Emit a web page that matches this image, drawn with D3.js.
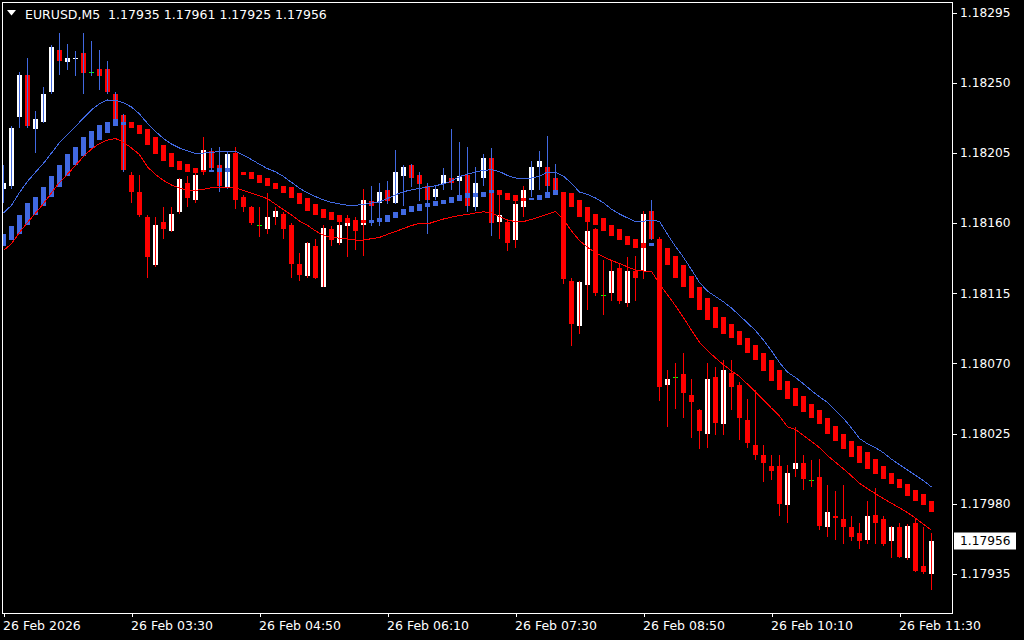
<!DOCTYPE html>
<html><head><meta charset="utf-8">
<script src="https://cdn.jsdelivr.net/npm/d3@7"></script>
<style>html,body{margin:0;padding:0;background:#000;overflow:hidden}svg{display:block}</style>
</head><body>
<svg id="chart" width="1024" height="640"></svg>
<script>
const symbolName = "EURUSD,M5";
const opens = [1.18182,1.18184,1.18228,1.18255,1.18220,1.18225,1.18244,1.18271,1.18263,1.18265,
1.18269,1.18257,1.18259,1.18259,1.18243,1.18229,1.18191,1.18180,1.18164,1.18133,
1.18161,1.18155,1.18167,1.18186,1.18175,1.18194,1.18206,1.18197,1.18183,1.18205,
1.18177,1.18170,1.18159,1.18156,1.18164,1.18166,1.18159,1.18134,1.18126,1.18145,
1.18119,1.18156,1.18147,1.18158,1.18160,1.18159,1.18174,1.18173,1.18181,1.18173,
1.18190,1.18197,1.18191,1.18184,1.18177,1.18185,1.18189,1.18187,1.18191,1.18170,
1.18189,1.18202,1.18161,1.18161,1.18149,1.18170,1.18181,1.18196,1.18196,1.18189,
1.18179,1.18123,1.18094,1.18120,1.18156,1.18114,1.18115,1.18131,1.18109,1.18129,
1.18129,1.18168,1.18150,1.18056,1.18061,1.18063,1.18050,1.18040,1.18025,1.18061,
1.18031,1.18064,1.18056,1.18034,1.18018,1.18011,1.18004,1.18004,1.17979,1.18002,
1.18006,1.17995,1.17997,1.17965,1.17972,1.17970,1.17965,1.17961,1.17957,1.17973,
1.17970,1.17956,1.17965,1.17945,1.17968,1.17940,1.17935];
const highs = [1.18197,1.18222,1.18257,1.18266,1.18232,1.18247,1.18274,1.18282,1.18275,1.18270,
1.18282,1.18277,1.18271,1.18264,1.18244,1.18230,1.18193,1.18191,1.18165,1.18164,
1.18170,1.18170,1.18189,1.18190,1.18195,1.18215,1.18208,1.18209,1.18206,1.18209,
1.18178,1.18171,1.18170,1.18179,1.18170,1.18167,1.18160,1.18141,1.18148,1.18150,
1.18159,1.18158,1.18161,1.18165,1.18164,1.18182,1.18184,1.18186,1.18187,1.18207,
1.18197,1.18198,1.18193,1.18186,1.18184,1.18195,1.18220,1.18212,1.18209,1.18196,
1.18204,1.18208,1.18178,1.18162,1.18175,1.18184,1.18200,1.18206,1.18216,1.18198,
1.18180,1.18125,1.18123,1.18162,1.18157,1.18136,1.18136,1.18134,1.18138,1.18139,
1.18168,1.18175,1.18151,1.18066,1.18070,1.18077,1.18060,1.18041,1.18070,1.18068,
1.18072,1.18072,1.18058,1.18047,1.18053,1.18018,1.18011,1.18011,1.18005,1.18029,
1.18011,1.18008,1.18009,1.17992,1.17988,1.17992,1.17972,1.17968,1.17982,1.17990,
1.17972,1.17966,1.17968,1.17967,1.17970,1.17965,1.17961];
const lows = [1.18173,1.18182,1.18221,1.18221,1.18205,1.18224,1.18243,1.18255,1.18258,1.18254,
1.18243,1.18254,1.18245,1.18243,1.18225,1.18193,1.18173,1.18164,1.18125,1.18132,
1.18150,1.18154,1.18166,1.18170,1.18173,1.18191,1.18194,1.18180,1.18182,1.18169,
1.18167,1.18159,1.18151,1.18153,1.18159,1.18150,1.18125,1.18123,1.18125,1.18124,
1.18119,1.18145,1.18146,1.18138,1.18143,1.18139,1.18158,1.18158,1.18172,1.18172,
1.18171,1.18183,1.18174,1.18153,1.18175,1.18181,1.18181,1.18174,1.18167,1.18168,
1.18184,1.18152,1.18150,1.18142,1.18144,1.18164,1.18177,1.18181,1.18180,1.18178,
1.18121,1.18081,1.18089,1.18104,1.18113,1.18101,1.18110,1.18108,1.18106,1.18110,
1.18124,1.18149,1.18046,1.18029,1.18041,1.18035,1.18022,1.18015,1.18016,1.18024,
1.18024,1.18040,1.18021,1.18016,1.18008,1.17994,1.17995,1.17972,1.17968,1.17997,
1.17989,1.17991,1.17963,1.17959,1.17957,1.17954,1.17956,1.17951,1.17954,1.17954,
1.17953,1.17945,1.17945,1.17944,1.17936,1.17935,1.17925];
const closes = [1.18186,1.18221,1.18255,1.18222,1.18227,1.18243,1.18273,1.18264,1.18266,1.18266,
1.18256,1.18257,1.18254,1.18244,1.18227,1.18194,1.18180,1.18165,1.18138,1.18159,
1.18156,1.18166,1.18188,1.18176,1.18191,1.18207,1.18195,1.18184,1.18204,1.18175,
1.18170,1.18160,1.18159,1.18164,1.18168,1.18156,1.18134,1.18127,1.18147,1.18125,
1.18157,1.18149,1.18159,1.18163,1.18155,1.18175,1.18171,1.18180,1.18174,1.18193,
1.18196,1.18189,1.18185,1.18175,1.18182,1.18191,1.18186,1.18190,1.18171,1.18186,
1.18202,1.18160,1.18165,1.18147,1.18172,1.18181,1.18196,1.18200,1.18184,1.18181,
1.18124,1.18095,1.18122,1.18155,1.18115,1.18114,1.18129,1.18110,1.18129,1.18125,
1.18166,1.18150,1.18055,1.18060,1.18061,1.18051,1.18045,1.18027,1.18060,1.18032,
1.18066,1.18055,1.18035,1.18019,1.18011,1.18006,1.18001,1.17980,1.18000,1.18006,
1.17996,1.17995,1.17966,1.17975,1.17971,1.17965,1.17959,1.17956,1.17972,1.17968,
1.17954,1.17965,1.17946,1.17966,1.17937,1.17936,1.17956];
const haOpen = [1.18145,1.18149,1.18153,1.18159,1.18165,1.18171,1.18177,1.18183,1.18190,1.18197,
1.18203,1.18208,1.18213,1.18218,1.18222,1.18223,1.18225,1.18223,1.18220,1.18215,
1.18210,1.18205,1.18200,1.18198,1.18195,1.18194,1.18193,1.18193,1.18193,1.18194,
1.18193,1.18193,1.18191,1.18189,1.18186,1.18184,1.18183,1.18179,1.18176,1.18172,
1.18169,1.18167,1.18165,1.18163,1.18162,1.18162,1.18160,1.18161,1.18161,1.18163,
1.18165,1.18167,1.18168,1.18170,1.18171,1.18172,1.18173,1.18174,1.18176,1.18177,
1.18177,1.18179,1.18181,1.18179,1.18178,1.18176,1.18175,1.18175,1.18176,1.18178,
1.18180,1.18179,1.18175,1.18170,1.18166,1.18163,1.18159,1.18156,1.18152,1.18150,
1.18147,1.18145,1.18147,1.18144,1.18139,1.18133,1.18126,1.18119,1.18112,1.18106,
1.18100,1.18095,1.18091,1.18086,1.18082,1.18077,1.18072,1.18066,1.18059,1.18054,
1.18049,1.18044,1.18040,1.18035,1.18030,1.18025,1.18020,1.18017,1.18013,1.18009,
1.18004,1.18000,1.17996,1.17993,1.17989,1.17986,1.17982];
const haClose = [1.18153,1.18158,1.18165,1.18173,1.18177,1.18183,1.18190,1.18197,1.18204,1.18209,
1.18215,1.18219,1.18223,1.18225,1.18227,1.18225,1.18221,1.18217,1.18210,1.18204,
1.18200,1.18196,1.18194,1.18193,1.18192,1.18193,1.18194,1.18195,1.18195,1.18192,
1.18191,1.18188,1.18186,1.18184,1.18182,1.18179,1.18176,1.18172,1.18168,1.18165,
1.18163,1.18162,1.18161,1.18160,1.18160,1.18160,1.18162,1.18163,1.18165,1.18167,
1.18169,1.18171,1.18172,1.18173,1.18174,1.18175,1.18177,1.18178,1.18179,1.18179,
1.18180,1.18181,1.18178,1.18175,1.18174,1.18174,1.18176,1.18178,1.18180,1.18181,
1.18175,1.18170,1.18164,1.18161,1.18159,1.18155,1.18152,1.18149,1.18146,1.18144,
1.18144,1.18147,1.18142,1.18133,1.18125,1.18119,1.18112,1.18104,1.18098,1.18093,
1.18089,1.18086,1.18082,1.18077,1.18072,1.18065,1.18059,1.18053,1.18047,1.18043,
1.18039,1.18035,1.18031,1.18025,1.18020,1.18015,1.18010,1.18006,1.18002,1.17999,
1.17996,1.17993,1.17990,1.17985,1.17982,1.17979,1.17975];
const upperBand = [1.181664,1.181714,1.181796,1.181867,1.181926,1.181983,1.182049,1.182117,1.182167,1.182219,
1.182274,1.182326,1.182365,1.182389,1.182388,1.182371,1.182344,1.182299,1.182239,1.182187,
1.182142,1.182107,1.182081,1.182063,1.182046,1.182049,1.182054,1.182058,1.182061,1.182059,
1.182036,1.182007,1.181977,1.181949,1.181929,1.181899,1.181861,1.181823,1.181793,1.181770,
1.181748,1.181733,1.181723,1.181714,1.181714,1.181720,1.181728,1.181736,1.181758,1.181781,
1.181801,1.181813,1.181822,1.181831,1.181839,1.181852,1.181868,1.181898,1.181913,1.181927,
1.181938,1.181942,1.181930,1.181905,1.181889,1.181884,1.181889,1.181901,1.181927,1.181926,
1.181901,1.181854,1.181799,1.181783,1.181761,1.181730,1.181689,1.181658,1.181633,1.181608,
1.181612,1.181617,1.181611,1.181527,1.181450,1.181380,1.181301,1.181219,1.181164,1.181129,
1.181095,1.181055,1.181007,1.180960,1.180910,1.180849,1.180781,1.180706,1.180644,1.180610,
1.180569,1.180526,1.180486,1.180450,1.180399,1.180347,1.180286,1.180219,1.180185,1.180160,
1.180127,1.180086,1.180051,1.180017,1.179983,1.179948,1.179908];
const lowerBand = [1.181425,1.181467,1.181540,1.181604,1.181663,1.181725,1.181793,1.181861,1.181913,1.181970,
1.182027,1.182075,1.182110,1.182132,1.182142,1.182118,1.182081,1.182039,1.181960,1.181911,
1.181873,1.181844,1.181824,1.181812,1.181810,1.181817,1.181827,1.181827,1.181831,1.181825,
1.181808,1.181791,1.181774,1.181756,1.181721,1.181686,1.181652,1.181613,1.181585,1.181550,
1.181521,1.181508,1.181503,1.181498,1.181491,1.181491,1.181500,1.181508,1.181528,1.181546,
1.181565,1.181584,1.181598,1.181594,1.181611,1.181626,1.181638,1.181649,1.181655,1.181665,
1.181672,1.181665,1.181642,1.181620,1.181609,1.181610,1.181623,1.181640,1.181657,1.181675,
1.181623,1.181549,1.181488,1.181444,1.181410,1.181383,1.181360,1.181341,1.181319,1.181299,
1.181292,1.181290,1.181210,1.181140,1.181070,1.180994,1.180913,1.180836,1.180783,1.180735,
1.180692,1.180652,1.180617,1.180567,1.180516,1.180465,1.180413,1.180362,1.180293,1.180276,
1.180238,1.180200,1.180160,1.180109,1.180067,1.180024,1.179979,1.179931,1.179897,1.179865,
1.179833,1.179803,1.179774,1.179744,1.179708,1.179669,1.179630];
const priceTicks = [1.18295,1.18250,1.18205,1.18160,1.18115,1.18070,1.18025,1.17980,1.17935];
const timeTickIdx = [0,16,32,48,64,80,96,112];
const timeTickLabels = ["26 Feb 2026","26 Feb 03:30","26 Feb 04:50","26 Feb 06:10","26 Feb 07:30","26 Feb 08:50","26 Feb 10:10","26 Feb 11:30"];

const BLUE = "#4169E1", RED = "#FF0000", WHITE = "#FFFFFF", GREEN = "#00FF00";
const FONT = "'DejaVu Sans', Verdana, sans-serif";
const n = opens.length, last = n - 1;
const fmt = d3.format(".5f");

const svg = d3.select("#chart");
svg.append("rect").attr("width",1024).attr("height",640).attr("fill","#000");

const frame = {l:2.5, t:2.5, r:952.5, b:613.5};
const x = d3.scaleLinear().domain([0, n-1]).range([3.5, 3.5 + 8*(n-1)]);
const y = d3.scaleLinear().domain([1.17935, 1.18295]).range([574, 12.5]);

svg.append("clipPath").attr("id","clip").append("rect")
  .attr("x",frame.l).attr("y",frame.t).attr("width",frame.r-frame.l).attr("height",frame.b-frame.t);
const g = svg.append("g").attr("clip-path","url(#clip)").attr("shape-rendering","crispEdges");

const idx = d3.range(n);
const up = i => haClose[i] > haOpen[i];

// candle bodies
g.append("g").selectAll("rect").data(idx).join("rect")
  .attr("x", i => x(i) - 2.5)
  .attr("width", 5)
  .attr("y", i => opens[i] === closes[i] ? Math.round(y(opens[i])) : y(Math.max(opens[i], closes[i])))
  .attr("height", i => opens[i] === closes[i] ? 1 : Math.max(1, y(Math.min(opens[i], closes[i])) - y(Math.max(opens[i], closes[i]))))
  .attr("fill", i => opens[i] === closes[i] ? GREEN : (closes[i] > opens[i] ? WHITE : RED));

// wicks (trend coloured high-low)
g.append("g").selectAll("line").data(idx).join("line")
  .attr("x1", i => x(i)).attr("x2", i => x(i))
  .attr("y1", i => y(highs[i])).attr("y2", i => y(lows[i]))
  .attr("stroke", i => up(i) ? BLUE : RED).attr("stroke-width", 1);

// blocks
g.append("g").selectAll("rect").data(idx).join("rect")
  .attr("x", i => x(i) - 2.5)
  .attr("width", 5)
  .attr("y", i => y(Math.max(haOpen[i], haClose[i])))
  .attr("height", i => Math.max(1.5, y(Math.min(haOpen[i], haClose[i])) - y(Math.max(haOpen[i], haClose[i]))))
  .attr("fill", i => up(i) ? BLUE : RED);

// envelope lines
const line = arr => d3.line().x((d,i) => x(i)).y(d => y(d))(arr);
g.append("path").attr("d", line(upperBand)).attr("fill","none").attr("stroke",BLUE).attr("stroke-width",1);
g.append("path").attr("d", line(lowerBand)).attr("fill","none").attr("stroke",RED).attr("stroke-width",1);

// frame
svg.append("rect").attr("x",frame.l).attr("y",frame.t).attr("width",frame.r-frame.l).attr("height",frame.b-frame.t)
  .attr("fill","none").attr("stroke",WHITE).attr("stroke-width",1).attr("shape-rendering","crispEdges");

// price axis
const ya = svg.append("g").attr("transform",`translate(${frame.r},0)`)
  .call(d3.axisRight(y).tickValues(priceTicks).tickFormat(fmt).tickSize(4).tickPadding(3.5));
ya.select(".domain").remove();
ya.selectAll("line").attr("stroke",WHITE).attr("shape-rendering","crispEdges");
ya.selectAll("text").attr("fill",WHITE).style("font-family",FONT).style("font-size","12.2px");

// current price label
const cp = closes[last];
svg.append("rect").attr("x",954).attr("y",Math.round(y(cp))-8.5).attr("width",62).attr("height",17).attr("fill",WHITE);
svg.append("text").attr("x",960).attr("y",y(cp)).attr("dy","0.32em").text(fmt(cp))
  .attr("fill","#000").style("font-family",FONT).style("font-size","12.2px");

// time axis
const xa = svg.append("g").attr("transform",`translate(0,${frame.b})`)
  .call(d3.axisBottom(x).tickValues(timeTickIdx).tickFormat((d,i) => timeTickLabels[i]).tickSize(3).tickPadding(4.5));
xa.select(".domain").remove();
xa.selectAll("line").attr("stroke",WHITE).attr("shape-rendering","crispEdges");
xa.selectAll("text").attr("fill",WHITE).attr("text-anchor","start").attr("dx",-1)
  .style("font-family",FONT).style("font-size","12.5px");

// title
svg.append("path").attr("d","M7,10 L16,10 L11.5,15.5 Z").attr("fill",WHITE);
svg.append("text").attr("x",25).attr("y",18.5).attr("xml:space","preserve")
  .text(`${symbolName}  ${fmt(opens[last])} ${fmt(highs[last])} ${fmt(lows[last])} ${fmt(closes[last])}`)
  .attr("fill",WHITE).style("font-family",FONT).style("font-size","12.5px").style("white-space","pre");
</script>
</body></html>
